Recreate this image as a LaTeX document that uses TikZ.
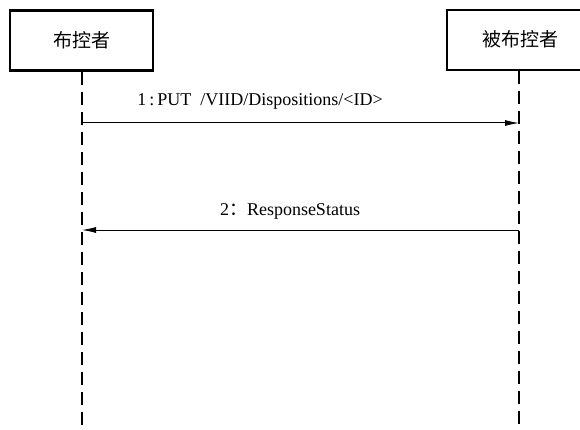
\documentclass[tikz,border=0pt]{standalone}
\usepackage{fontspec}
\setmainfont{Liberation Serif}
\newfontfamily\cjk{Noto Sans CJK SC}
\usetikzlibrary{arrows.meta}
\begin{document}
\begin{tikzpicture}[x=1pt,y=-1pt,
  actor/.style={draw,line width=2.6pt,minimum width=143pt,minimum height=60pt,inner sep=0pt},
  actortext/.style={font=\cjk\fontsize{19}{19}\selectfont,inner sep=0pt},
  lifeline/.style={line width=1.2pt,dash pattern=on 13pt off 7pt},
  msg/.style={line width=1pt,-{Latex[length=14pt,width=6pt]}},
  lbl/.style={font=\fontsize{18}{18}\selectfont,inner sep=0pt}]
\useasboundingbox (0,0) rectangle (580,430);
\clip (0,0) rectangle (580,430);
\node[actor] (A) at (81.5,40.5) {};
\node[actortext] (At) at (82,40) {布控者};
\node[actor] (B) at (518.5,40) {};
\node[actortext] (Bt) at (520,39) {被布控者};
\coordinate (Aend) at (82,430);
\coordinate (Bend) at (519,430);
\draw[lifeline] (A.south -| Aend) -- (Aend);
\draw[lifeline] (B.south -| Bend) -- (Bend);
\coordinate (m1a) at (82,123);
\coordinate (m1b) at (519,123);
\coordinate (m2a) at (519,230);
\coordinate (m2b) at (82,230);
\draw[msg] (m1a) -- (m1b);
\draw[msg] (m2a) -- (m2b);
\node[lbl] (L1) at (260,101) {1\,:\,PUT\ \ /VIID/Dispositions/<ID>};
\node[lbl] (L2) at (290,211) {2{\cjk ：}ResponseStatus};
\end{tikzpicture}
\end{document}
